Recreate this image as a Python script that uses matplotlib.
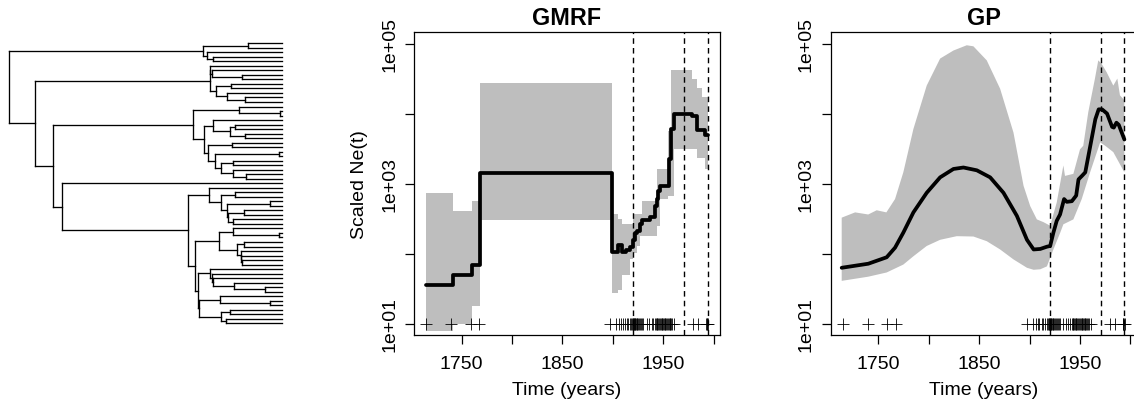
import numpy as np
import matplotlib
matplotlib.use('Agg')
import matplotlib.pyplot as plt
from matplotlib.ticker import NullLocator

plt.rcParams['font.family'] = ['Liberation Sans', 'DejaVu Sans']

# ============================================================
# Data
# ============================================================
# genealogy: newick topology, internal labels are node depths (root 28, tips 845)
tree_newick = (
    "(((,)745,(,(,)640)622)608,"
    "(((,(,(,)726)636)631,((,)692,(,(,)735)680)647)630,"
    "(((,(,)840)717,((,((,)705,(,)735)690)640,((,)695,((,)838,((,)700,(,(,)738)698)662)645)623)612)580,"
    "(,((,((,)706,((,)810,((,)732,(,)700)683)680)662)628,(((,(,)838)700,((,)733,(,(,(,)726)724)722)710)657,"
    "((,(,(,(,(,)795)703)640)635)630,((,(,)810)660,((,)690,(,)678)662)598)595)585)565)185)160)105)28;"
)
tip_depth = 845.0
root_depth = 28.0

# sampling times of the sequences (+ marks)
samp_times = [1714.6, 1739.4, 1759.0, 1767.5,
              1897.1, 1903.0, 1906.0, 1908.0, 1909.7, 1912.0, 1913.6, 1915.3,
              1917.0, 1918.1, 1918.9, 1919.6, 1920.2, 1920.7, 1921.1, 1921.6, 1922.2,
              1922.8, 1923.5, 1924.3, 1925.2, 1926.3, 1927.1, 1928.2, 1929.0, 1930.1,
              1933.5, 1936.2, 1938.5, 1940.2,
              1941.9, 1942.8, 1943.5, 1944.1, 1945.0, 1945.9, 1946.5, 1947.3, 1948.3,
              1949.0, 1949.7, 1950.6, 1951.5, 1952.1, 1953.0, 1953.9, 1954.5, 1955.4,
              1956.3, 1957.0, 1957.8, 1958.6,
              1960.6, 1979.9, 1984.2, 1992.2, 1993.1, 1993.7, 1994.4]

# reference events (dashed lines)
event_years = [1920.3, 1970.8, 1994.0]

# GMRF: piecewise constant, value holds from t to the next t
gmrf_t = [1714.6, 1741.0, 1760.0, 1768.2, 1899.4, 1905.4, 1908.7, 1913.0, 1917.0,
          1920.3, 1922.0, 1924.0, 1926.9, 1928.5, 1936.8, 1941.8, 1943.4, 1945.0,
          1946.7, 1955.5, 1957.3, 1960.6, 1978.1, 1983.1, 1991.4, 1994.5]
gmrf_med = [36, 49, 69, 1410, 105, 132, 107, 112, 126,
            158, 200, 214, 263, 302, 339, 479, 603, 794,
            933, 2240, 6030, 10000, 9330, 5750, 5010, 5010]

gmrf_band_t = [1714.6, 1741.0, 1760.0, 1768.2, 1899.4, 1905.4, 1908.7, 1917.0, 1920.3,
               1923.6, 1926.9, 1928.5, 1943.4, 1946.7, 1955.0, 1957.3, 1960.6, 1978.1,
               1983.1, 1988.0, 1991.4, 1994.5]
gmrf_lo = [7.8, 10, 17.8, 302, 27.5, 30.7, 50, 83, 102,
           129, 178, 178, 245, 603, 661, 661, 3090, 3090,
           2340, 2340, 1620, 1620]
gmrf_hi = [724, 407, 562, 26900, 363, 309, 263, 263, 363,
           363, 363, 562, 1620, 1620, 5620, 41700, 41700, 31600,
           22900, 17400, 17400, 17400]

# GP: smooth posterior median and 95% band
gp_t = [1713.7, 1740.1, 1758.3, 1766.6, 1774.8, 1784.8, 1798.0, 1811.3, 1824.5,
        1834.4, 1847.7, 1860.9, 1874.1, 1887.4, 1897.4, 1904.0, 1910.6, 1917.2,
        1920.4, 1923.6, 1926.9, 1930.2, 1934.2, 1936.9, 1941.9, 1946.2, 1948.5,
        1951.9, 1955.2, 1960.2, 1965.2, 1968.5, 1971.8, 1976.8, 1981.8, 1983.5,
        1986.1, 1988.4, 1994.0]
gp_med = [63, 72, 89, 122, 200, 389, 741, 1230, 1620,
          1700, 1550, 1230, 741, 347, 158, 115, 117, 126,
          129, 200, 295, 363, 603, 550, 562, 676, 1150,
          1290, 1450, 3470, 8320, 11500, 11500, 10000, 6460, 6310,
          7410, 6920, 4270]

gp_hi_t = [1713.7, 1727.0, 1740.0, 1748.4, 1758.0, 1766.6, 1774.8, 1784.8, 1798.0,
           1811.3, 1824.5, 1837.7, 1844.3, 1857.5, 1870.8, 1884.0, 1894.0, 1900.6,
           1907.2, 1913.8, 1920.4, 1926.9, 1933.5, 1935.1, 1943.4, 1950.0, 1953.2,
           1958.2, 1964.8, 1968.1, 1971.4, 1976.4, 1983.0, 1987.0, 1989.6, 1994.0]
gp_hi = [327, 389, 363, 417, 389, 603, 1450, 6030, 25100,
         61000, 79400, 94400, 91200, 57500, 22600, 5370, 933, 479,
         309, 282, 251, 537, 1820, 1290, 1380, 3090, 3470,
         10500, 31600, 57500, 51300, 38900, 25100, 31600, 18200, 15500]

gp_lo_t = [1713.7, 1740.0, 1758.3, 1774.8, 1784.8, 1798.0, 1811.3, 1827.8, 1844.3,
           1857.5, 1870.8, 1884.0, 1897.4, 1904.0, 1910.6, 1917.2, 1923.6, 1930.4,
           1933.5, 1943.4, 1951.7, 1960.0, 1970.0, 1975.0, 1983.0, 1994.0]
gp_lo = [41, 47, 54, 70, 92, 129, 158, 178, 176,
         151, 115, 83, 63, 59, 60, 66, 115, 200,
         263, 309, 603, 1450, 3890, 3470, 2820, 1450]


# ============================================================
# Tree helpers
# ============================================================
def parse_newick(s):
    pos = 0

    def node():
        nonlocal pos
        if s[pos] == '(':
            pos += 1
            kids = [node()]
            while s[pos] == ',':
                pos += 1
                kids.append(node())
            pos += 1  # closing bracket
            j = pos
            while pos < len(s) and (s[pos].isdigit() or s[pos] == '.'):
                pos += 1
            return {'depth': float(s[j:pos]), 'kids': kids}
        return {'depth': tip_depth, 'kids': []}

    return node()


def layout(nd, counter):
    if not nd['kids']:
        nd['y'] = counter[0]
        counter[0] += 1
        return
    for k in nd['kids']:
        layout(k, counter)
    nd['y'] = 0.5 * (nd['kids'][0]['y'] + nd['kids'][-1]['y'])


def draw_tree(ax, nd, lw=0.95):
    if not nd['kids']:
        return
    ys = [k['y'] for k in nd['kids']]
    ax.plot([nd['depth'], nd['depth']], [min(ys), max(ys)], color='black',
            lw=lw, solid_capstyle='projecting', clip_on=False)
    for k in nd['kids']:
        ax.plot([nd['depth'], k['depth']], [k['y'], k['y']], color='black',
                lw=lw, solid_capstyle='projecting', clip_on=False)
        draw_tree(ax, k, lw)


# ============================================================
# Figure
# ============================================================
W, H = 1134, 402
fig = plt.figure(figsize=(W / 100, H / 100), dpi=100)


def px_axes(left, top, right, bottom):
    return fig.add_axes([left / W, 1 - bottom / H, (right - left) / W, (bottom - top) / H])


# --- tree
root = parse_newick(tree_newick)
cnt = [0]
layout(root, cnt)
n_tips = cnt[0]
ax_t = px_axes(9.3, 44.3, 281.7, 324.3)
draw_tree(ax_t, root)
ax_t.set_xlim(root_depth, tip_depth)
ax_t.set_ylim(n_tips - 1, 0)
ax_t.axis('off')

# --- Ne panels
grey = '#bebebe'
xlim = (1702.8, 2006.2)
ylim = (10 ** 0.84, 10 ** 5.16)


def setup_panel(ax, title):
    ax.set_yscale('log')
    ax.set_xlim(*xlim)
    ax.set_ylim(*ylim)
    ax.set_xticks([1750, 1800, 1850, 1900, 1950, 2000])
    ax.set_xticklabels(['1750', '', '1850', '', '1950', ''])
    ax.set_yticks([1e1, 1e2, 1e3, 1e4, 1e5])
    ax.set_yticklabels(['1e+01', '', '1e+03', '', '1e+05'], rotation=90, va='center')
    ax.yaxis.set_minor_locator(NullLocator())
    ax.tick_params(axis='both', direction='out', length=6.5, width=0.9,
                   labelsize=14, color='black')
    ax.tick_params(axis='x', pad=8.0)
    ax.tick_params(axis='y', pad=5.0)
    for sp in ax.spines.values():
        sp.set_linewidth(0.9)
    ax.set_title(title, fontsize=16.8, fontweight='bold', pad=6)

    for t in event_years:
        ax.axvline(t, color='black', lw=1.0, ls=(0, (4, 3)), zorder=3)
    ax.plot(samp_times, [10] * len(samp_times), '+', color='black',
            ms=8.4, mew=0.6, zorder=4)


ax_g = px_axes(414, 33.3, 720, 336)
ax_g.fill_between(gmrf_band_t, gmrf_lo, gmrf_hi, step='post', color=grey, lw=0, zorder=1)
ax_g.step(gmrf_t, gmrf_med, where='post', color='black', lw=2.7,
          solid_capstyle='round', solid_joinstyle='round', zorder=5)
setup_panel(ax_g, 'GMRF')

ax_p = px_axes(830.7, 33.3, 1136.7, 336)
ax_p.fill(list(gp_hi_t) + list(gp_lo_t[::-1]), list(gp_hi) + list(gp_lo[::-1]),
          color=grey, lw=0, zorder=1)
ax_p.plot(gp_t, gp_med, color='black', lw=2.7,
          solid_capstyle='round', solid_joinstyle='round', zorder=5)
setup_panel(ax_p, 'GP')

# axis labels
fig.text(359 / W, 1 - 185 / H, 'Scaled Ne(t)', rotation=90, ha='center', va='center', fontsize=14)
fig.text(567 / W, 1 - 395.5 / H, 'Time (years)', ha='center', va='baseline', fontsize=14)
fig.text(983.7 / W, 1 - 395.5 / H, 'Time (years)', ha='center', va='baseline', fontsize=14)

fig.savefig('out.png', dpi=100)
